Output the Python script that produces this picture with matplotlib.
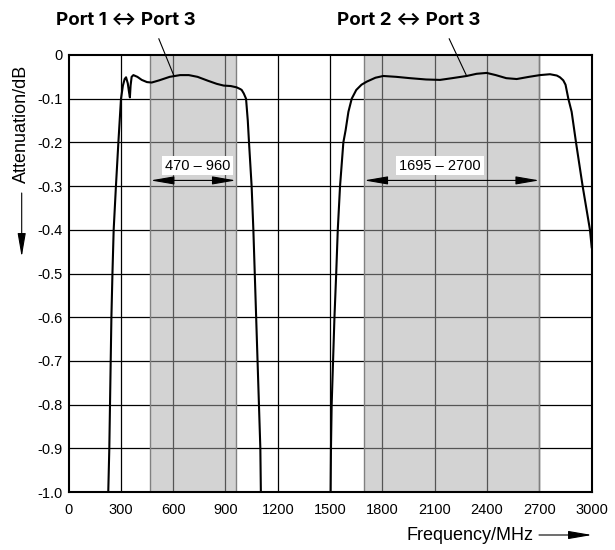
import numpy as np
import matplotlib
matplotlib.use('Agg')
import matplotlib.pyplot as plt

plt.rcParams['font.family'] = ['Liberation Sans', 'DejaVu Sans']
plt.rcParams['axes.unicode_minus'] = False

# curve Port 1 <-> Port 3 (MHz, dB)
p1_freq = [228, 234, 238, 242, 246, 252, 259, 272, 286, 301, 312, 322, 330, 340,
           347, 352, 356, 362, 372, 395, 420, 450, 477, 520, 580, 640, 690, 740,
           800, 850, 890, 930, 964, 985, 993, 1005, 1018, 1028, 1035, 1050, 1060,
           1068, 1076, 1084, 1092, 1100, 1103]
p1_att = [-1.0, -0.9, -0.8, -0.7, -0.6, -0.5, -0.4, -0.3, -0.2, -0.1, -0.07, -0.055,
          -0.051, -0.065, -0.085, -0.097, -0.07, -0.05, -0.046, -0.05, -0.057, -0.062,
          -0.063, -0.058, -0.05, -0.046, -0.046, -0.05, -0.059, -0.066, -0.07, -0.071,
          -0.074, -0.078, -0.08, -0.088, -0.1, -0.15, -0.2, -0.3, -0.4, -0.5, -0.6,
          -0.7, -0.8, -0.9, -1.0]

# curve Port 2 <-> Port 3
p2_freq = [1503, 1505, 1509, 1517, 1525, 1535, 1544, 1557, 1576, 1589, 1605, 1624,
           1650, 1680, 1710, 1760, 1805, 1880, 1958, 2050, 2130, 2200, 2283, 2340,
           2398, 2450, 2510, 2570, 2640, 2703, 2761, 2800, 2818, 2837, 2850, 2866,
           2885, 2910, 2948, 2990, 3000]
p2_att = [-1.0, -0.9, -0.8, -0.7, -0.6, -0.5, -0.4, -0.3, -0.2, -0.172, -0.13, -0.1,
          -0.08, -0.068, -0.061, -0.052, -0.048, -0.05, -0.053, -0.056, -0.057, -0.053,
          -0.048, -0.043, -0.041, -0.046, -0.053, -0.055, -0.05, -0.046, -0.044,
          -0.047, -0.051, -0.058, -0.068, -0.1, -0.13, -0.2, -0.3, -0.4, -0.44]

bands = [(470, 960), (1695, 2700)]
band_labels = ['470 – 960', '1695 – 2700']
titles = ['Port 1 ↔ Port 3', 'Port 2 ↔ Port 3']

xticks = list(range(0, 3001, 300))
yticks = [round(-0.1 * i, 1) for i in range(11)]
ylabels = ['0'] + ['%.1f' % v for v in yticks[1:]]

fig = plt.figure(figsize=(6.15, 5.5), dpi=100)
ax = fig.add_axes([68.5 / 615, 58 / 550, 523.2 / 615, 437 / 550])

# grid first, shading semi-transparent on top so grid shows grey inside
for x in xticks[1:-1]:
    ax.axvline(x, color='black', lw=0.9, zorder=1)
for y in yticks[1:-1]:
    ax.axhline(y, color='black', lw=0.9, zorder=1)
for lo, hi in bands:
    ax.axvspan(lo, hi, facecolor='#a8a8a8', alpha=0.5, edgecolor='none', zorder=2)
    ax.axvline(lo, color='#808080', lw=1.0, zorder=2)
    ax.axvline(hi, color='#808080', lw=1.0, zorder=2)

ax.plot(p1_freq, p1_att, color='black', lw=1.5, zorder=4)
ax.plot(p2_freq, p2_att, color='black', lw=1.5, zorder=4)

# band arrows + labels
lab_x = [741, 2130]
for (lo, hi), lab, lx in zip(bands, band_labels, lab_x):
    ax.annotate('', xy=(hi, -0.287), xytext=(lo, -0.287),
                arrowprops=dict(arrowstyle='<|-|>, head_length=1.45, head_width=0.25',
                                color='black', lw=0.8, shrinkA=0, shrinkB=0), zorder=5)
    ax.text(lx, -0.253, lab, ha='center', va='center', fontsize=10.5, zorder=6,
            bbox=dict(facecolor='white', edgecolor='none', pad=2))

# leader lines to titles
ax.plot([518, 605], [0.037, -0.048], color='black', lw=0.8, clip_on=False, zorder=5)
ax.plot([2183, 2283], [0.037, -0.048], color='black', lw=0.8, clip_on=False, zorder=5)

ax.set_xlim(0, 3000)
ax.set_ylim(-1.0, 0)
ax.set_xticks(xticks)
ax.set_yticks(yticks)
ax.set_yticklabels(ylabels)
ax.tick_params(length=0, labelsize=10.5)
ax.tick_params(axis='x', pad=8)
ax.tick_params(axis='y', pad=4)
for s in ax.spines.values():
    s.set_linewidth(1.5)
    s.set_zorder(6)

fig.text(126 / 615, 1 - 20 / 550, titles[0], ha='center', va='center',
         fontsize=13.5, fontweight='bold', family=['Inter', 'DejaVu Sans'])
fig.text(409 / 615, 1 - 20 / 550, titles[1], ha='center', va='center',
         fontsize=13.5, fontweight='bold', family=['Inter', 'DejaVu Sans'])

fig.text(21.7 / 615, 1 - 183 / 550, 'Attenuation/dB', rotation=90,
         ha='center', va='bottom', fontsize=13)
ax.annotate('', xy=(21.7, 550 - 257), xytext=(21.7, 550 - 193),
            xycoords='figure pixels', textcoords='figure pixels',
            arrowprops=dict(arrowstyle='-|>, head_length=1.45, head_width=0.25',
                            color='black', lw=0.8, shrinkA=0, shrinkB=0))

fig.text(533 / 615, 15 / 550, 'Frequency/MHz', ha='right', va='center', fontsize=13)
ax.annotate('', xy=(592, 15), xytext=(539, 15),
            xycoords='figure pixels', textcoords='figure pixels',
            arrowprops=dict(arrowstyle='-|>, head_length=1.45, head_width=0.25',
                            color='black', lw=0.8, shrinkA=0, shrinkB=0))

fig.savefig('out.png', dpi=100)
